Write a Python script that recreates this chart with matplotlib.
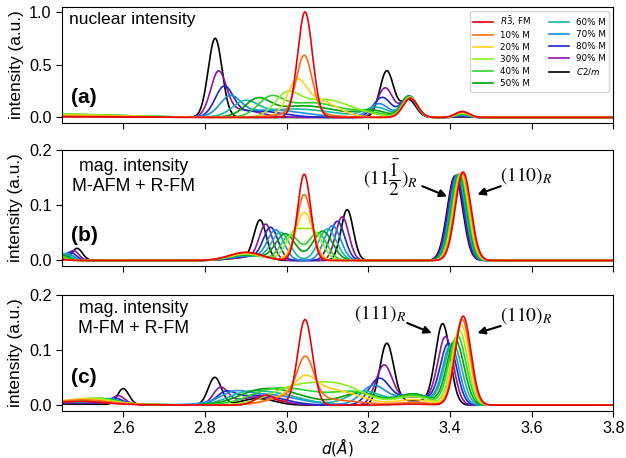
import numpy as np
import matplotlib
matplotlib.use('Agg')
import matplotlib.pyplot as plt

plt.rcParams['font.family'] = ['Liberation Sans', 'DejaVu Sans']

# composition order: R-3 (0 % M) ... 90 % M, C2/m
labels = [r'$R\bar{3}$, FM', '10% M', '20% M', '30% M', '40% M', '50% M',
          '60% M', '70% M', '80% M', '90% M', r'$C2/m$']
colors = ['#e8000b', '#ff6a13', '#ffd21a', '#8cf01e', '#2cd22c', '#00a000',
          '#1ab4a8', '#1e8ce6', '#1e28c8', '#8c14a8', '#000000']

# ---- nuclear intensity, peak (position, height, sigma) per composition ----
nuc_bg_pos = 2.45
nuc_bg_amp = [0.006, 0.012, 0.02, 0.028, 0.03, 0.028, 0.026, 0.022, 0.018, 0.015, 0.01]
nuc_bg_sig = 0.15

nuc_main_pos = [3.045, 3.043, 3.024, 3.0, 2.96, 2.928, 2.898, 2.862, 2.847, 2.833, 2.825]
nuc_main_amp = [1.0, 0.55, 0.25, 0.19, 0.155, 0.145, 0.13, 0.175, 0.275, 0.41, 0.75]
nuc_main_sig = [0.018, 0.019, 0.022, 0.03, 0.03, 0.03, 0.03, 0.025, 0.022, 0.019, 0.017]

nuc_tail_pos = [3.0, 3.04, 3.07, 3.09, 3.06, 3.04, 3.02, 2.96, 2.93, 2.89, 2.9]
nuc_tail_amp = [0.0, 0.04, 0.17, 0.17, 0.14, 0.11, 0.08, 0.07, 0.06, 0.07, 0.0]
nuc_tail_sig = [0.06, 0.06, 0.05, 0.06, 0.07, 0.08, 0.09, 0.08, 0.06, 0.045, 0.05]

nuc_p3_pos = [3.2, 3.2, 3.2, 3.19, 3.2, 3.21, 3.22, 3.226, 3.234, 3.241, 3.245]
nuc_p3_amp = [0.0, 0.0, 0.0, 0.02, 0.04, 0.06, 0.09, 0.13, 0.19, 0.28, 0.44]
nuc_p3_sig = [0.04, 0.04, 0.04, 0.04, 0.04, 0.035, 0.03, 0.025, 0.022, 0.019, 0.017]

nuc_p4_pos = [3.303, 3.302, 3.302, 3.301, 3.301, 3.300, 3.300, 3.300, 3.299, 3.299, 3.298]
nuc_p4_amp = [0.18, 0.185, 0.19, 0.19, 0.195, 0.2, 0.2, 0.205, 0.2, 0.19, 0.17]
nuc_p4_sig = 0.018

nuc_p5_pos = 3.43
nuc_p5_amp = [0.057, 0.05, 0.045, 0.04, 0.035, 0.03, 0.025, 0.02, 0.015, 0.01, 0.005]
nuc_p5_sig = 0.017

# ---- magnetic intensity, M-AFM + R-FM ----
afm_p0_pos = [2.39, 2.40, 2.41, 2.425, 2.435, 2.445, 2.455, 2.462, 2.47, 2.478, 2.487]
afm_p0_amp = [0.01, 0.01, 0.01, 0.01, 0.011, 0.011, 0.012, 0.013, 0.015, 0.018, 0.022]
afm_p0_sig = [0.035, 0.03, 0.025, 0.022, 0.02, 0.018, 0.016, 0.015, 0.014, 0.013, 0.013]

afm_bump_pos = 2.90
afm_bump_amp = [0.015, 0.014, 0.013, 0.012, 0.011, 0.01, 0.009, 0.008, 0.007, 0.006, 0.005]
afm_bump_sig = 0.04

afm_lo_pos = [3.043, 3.041, 3.035, 3.02, 3.008, 2.997, 2.985, 2.973, 2.961, 2.949, 2.935]
afm_lo_amp = [0.078, 0.06, 0.047, 0.05, 0.046, 0.048, 0.05, 0.054, 0.058, 0.063, 0.07]
afm_hi_pos = [3.043, 3.045, 3.051, 3.066, 3.076, 3.088, 3.10, 3.112, 3.124, 3.136, 3.148]
afm_hi_amp = [0.078, 0.06, 0.047, 0.05, 0.05, 0.053, 0.057, 0.063, 0.071, 0.079, 0.092]
afm_split_sig = [0.016, 0.018, 0.02, 0.022, 0.022, 0.024, 0.022, 0.02, 0.018, 0.016, 0.015]

afm_p4_pos = [3.432, 3.430, 3.428, 3.426, 3.424, 3.422, 3.420, 3.418, 3.416, 3.414, 3.412]
afm_p4_amp = [0.160, 0.159, 0.158, 0.157, 0.157, 0.156, 0.155, 0.155, 0.154, 0.154, 0.153]
afm_p4_sig = 0.019

# ---- magnetic intensity, M-FM + R-FM ----
fm_bg_pos = 2.45
fm_bg_amp = [0.003, 0.005, 0.006, 0.007, 0.007, 0.007, 0.007, 0.006, 0.005, 0.004, 0.002]
fm_bg_sig = 0.12

fm_p0_pos = [2.50, 2.51, 2.52, 2.53, 2.54, 2.55, 2.56, 2.57, 2.58, 2.588, 2.60]
fm_p0_amp = [0.004, 0.005, 0.006, 0.007, 0.007, 0.007, 0.007, 0.008, 0.01, 0.015, 0.029]
fm_p0_sig = [0.05, 0.05, 0.045, 0.04, 0.035, 0.03, 0.025, 0.02, 0.018, 0.016, 0.014]

fm_main_pos = [3.045, 3.046, 3.045, 3.0, 2.95, 2.92, 2.89, 2.87, 2.851, 2.838, 2.824]
fm_main_amp = [0.155, 0.069, 0.024, 0.01, 0.01, 0.01, 0.01, 0.012, 0.018, 0.03, 0.05]
fm_main_sig = [0.018, 0.02, 0.025, 0.05, 0.05, 0.05, 0.04, 0.03, 0.022, 0.018, 0.016]

fm_tail_pos = [2.95, 3.03, 3.06, 3.06, 3.02, 2.98, 2.96, 2.94, 2.93, 2.93, 2.93]
fm_tail_amp = [0.018, 0.02, 0.03, 0.028, 0.026, 0.024, 0.022, 0.02, 0.018, 0.015, 0.012]
fm_tail_sig = [0.025, 0.06, 0.07, 0.08, 0.08, 0.07, 0.07, 0.08, 0.06, 0.05, 0.04]

fm_p3_pos = [3.2, 3.16, 3.16, 3.14, 3.17, 3.18, 3.19, 3.212, 3.226, 3.238, 3.245]
fm_p3_amp = [0.0, 0.005, 0.01, 0.02, 0.02, 0.022, 0.025, 0.035, 0.047, 0.07, 0.11]
fm_p3_sig = [0.04, 0.05, 0.05, 0.06, 0.05, 0.045, 0.04, 0.03, 0.025, 0.02, 0.017]

fm_base_pos = 3.31
fm_base_amp = [0.002, 0.005, 0.01, 0.015, 0.018, 0.02, 0.02, 0.02, 0.018, 0.015, 0.008]
fm_base_sig = 0.04

fm_p4_pos = [3.432, 3.430, 3.427, 3.423, 3.418, 3.413, 3.407, 3.402, 3.396, 3.389, 3.382]
fm_p4_amp = [0.161, 0.155, 0.145, 0.135, 0.125, 0.117, 0.112, 0.108, 0.11, 0.122, 0.146]
fm_p4_sig = [0.019, 0.019, 0.02, 0.02, 0.021, 0.021, 0.021, 0.02, 0.02, 0.019, 0.018]

n = len(labels)
d = np.linspace(2.45, 3.8, 2000)


def vec(v):
    return np.broadcast_to(np.asarray(v, dtype=float), (n,))


def profile(families, i):
    y = np.zeros_like(d)
    for pos, amp, sig in families:
        p, a, s = vec(pos)[i], vec(amp)[i], vec(sig)[i]
        y += a * np.exp(-(d - p) ** 2 / (2 * s ** 2))
    return y


nuc = [(nuc_bg_pos, nuc_bg_amp, nuc_bg_sig),
       (nuc_main_pos, nuc_main_amp, nuc_main_sig),
       (nuc_tail_pos, nuc_tail_amp, nuc_tail_sig),
       (nuc_p3_pos, nuc_p3_amp, nuc_p3_sig),
       (nuc_p4_pos, nuc_p4_amp, nuc_p4_sig),
       (nuc_p5_pos, nuc_p5_amp, nuc_p5_sig)]
afm = [(afm_p0_pos, afm_p0_amp, afm_p0_sig),
       (afm_bump_pos, afm_bump_amp, afm_bump_sig),
       (afm_lo_pos, afm_lo_amp, afm_split_sig),
       (afm_hi_pos, afm_hi_amp, afm_split_sig),
       (afm_p4_pos, afm_p4_amp, afm_p4_sig)]
fm = [(fm_bg_pos, fm_bg_amp, fm_bg_sig),
      (fm_p0_pos, fm_p0_amp, fm_p0_sig),
      (fm_main_pos, fm_main_amp, fm_main_sig),
      (fm_tail_pos, fm_tail_amp, fm_tail_sig),
      (fm_p3_pos, fm_p3_amp, fm_p3_sig),
      (fm_base_pos, fm_base_amp, fm_base_sig),
      (fm_p4_pos, fm_p4_amp, fm_p4_sig)]

fig = plt.figure(figsize=(6.26, 4.58), dpi=100)
ax_a = fig.add_axes([0.099, 0.7321, 0.881, 0.2533])
ax_b = fig.add_axes([0.099, 0.4192, 0.881, 0.2533])
ax_c = fig.add_axes([0.099, 0.1033, 0.881, 0.2533])

for ax, fams in [(ax_a, nuc), (ax_b, afm), (ax_c, fm)]:
    for i in reversed(range(n)):
        ax.plot(d, profile(fams, i), color=colors[i], lw=1.2, label=labels[i])
    ax.set_xlim(2.45, 3.8)
    ax.set_xticks(np.arange(2.6, 3.81, 0.2))
    ax.set_ylabel('intensity (a.u.)', fontsize=12.4)
    ax.tick_params(labelsize=11.7, length=4)

ax_a.set_ylim(-0.05, 1.05)
ax_a.set_yticks([0.0, 0.5, 1.0])
ax_b.set_ylim(-0.01, 0.2)
ax_b.set_yticks([0.0, 0.1, 0.2])
ax_c.set_ylim(-0.01, 0.2)
ax_c.set_yticks([0.0, 0.1, 0.2])
ax_a.tick_params(labelbottom=False)
ax_b.tick_params(labelbottom=False)
ax_c.set_xlabel('$d(Å)$', fontsize=11)
ax_c.xaxis.set_label_coords(0.5, -0.215)

handles, names = ax_a.get_legend_handles_labels()
ax_a.legend(handles[::-1], names[::-1], ncol=2, loc='upper right',
            prop={'family': 'DejaVu Sans', 'size': 6.35},
            handlelength=2.27, handletextpad=0.76, columnspacing=2.08,
            labelspacing=0.35, borderpad=0.35)

ax_a.text(0.013, 0.888, 'nuclear intensity', transform=ax_a.transAxes,
          fontsize=12.6, va='center', ha='left')
ax_b.text(0.129, 0.77, 'mag. intensity\nM-AFM + R-FM', transform=ax_b.transAxes,
          fontsize=12.8, va='center', ha='center', multialignment='center',
          linespacing=1.25)
ax_c.text(0.129, 0.794, 'mag. intensity\nM-FM + R-FM', transform=ax_c.transAxes,
          fontsize=12.8, va='center', ha='center', multialignment='center',
          linespacing=1.25)
for ax, tag, yf in [(ax_a, '(a)', 0.215), (ax_b, '(b)', 0.26), (ax_c, '(c)', 0.29)]:
    ax.text(0.04, yf, tag, transform=ax.transAxes, fontsize=15,
            fontweight='bold', va='center', ha='center')

# reflection labels with arrows
serif = dict(fontsize=14, ha='center', va='center', family='DejaVu Serif',
             math_fontfamily='stix')
arrow = dict(arrowstyle='-|>', color='black', lw=1.5, mutation_scale=11,
             shrinkA=0, shrinkB=0)
ax_b.text(3.255, 0.150, r'$(11\dfrac{\bar{1}}{2})_R$', **serif)
ax_b.annotate('', xy=(3.393, 0.116), xytext=(3.332, 0.1345), arrowprops=arrow)
ax_b.text(3.587, 0.154, r'$(110)_R$', **serif)
ax_b.annotate('', xy=(3.467, 0.1195), xytext=(3.524, 0.1345), arrowprops=arrow)
ax_c.text(3.228, 0.1657, r'$(111)_R$', **serif)
ax_c.annotate('', xy=(3.355, 0.1306), xytext=(3.295, 0.1487), arrowprops=arrow)
ax_c.text(3.587, 0.1626, r'$(110)_R$', **serif)
ax_c.annotate('', xy=(3.467, 0.1306), xytext=(3.524, 0.1433), arrowprops=arrow)

fig.savefig('out.png', dpi=100)
